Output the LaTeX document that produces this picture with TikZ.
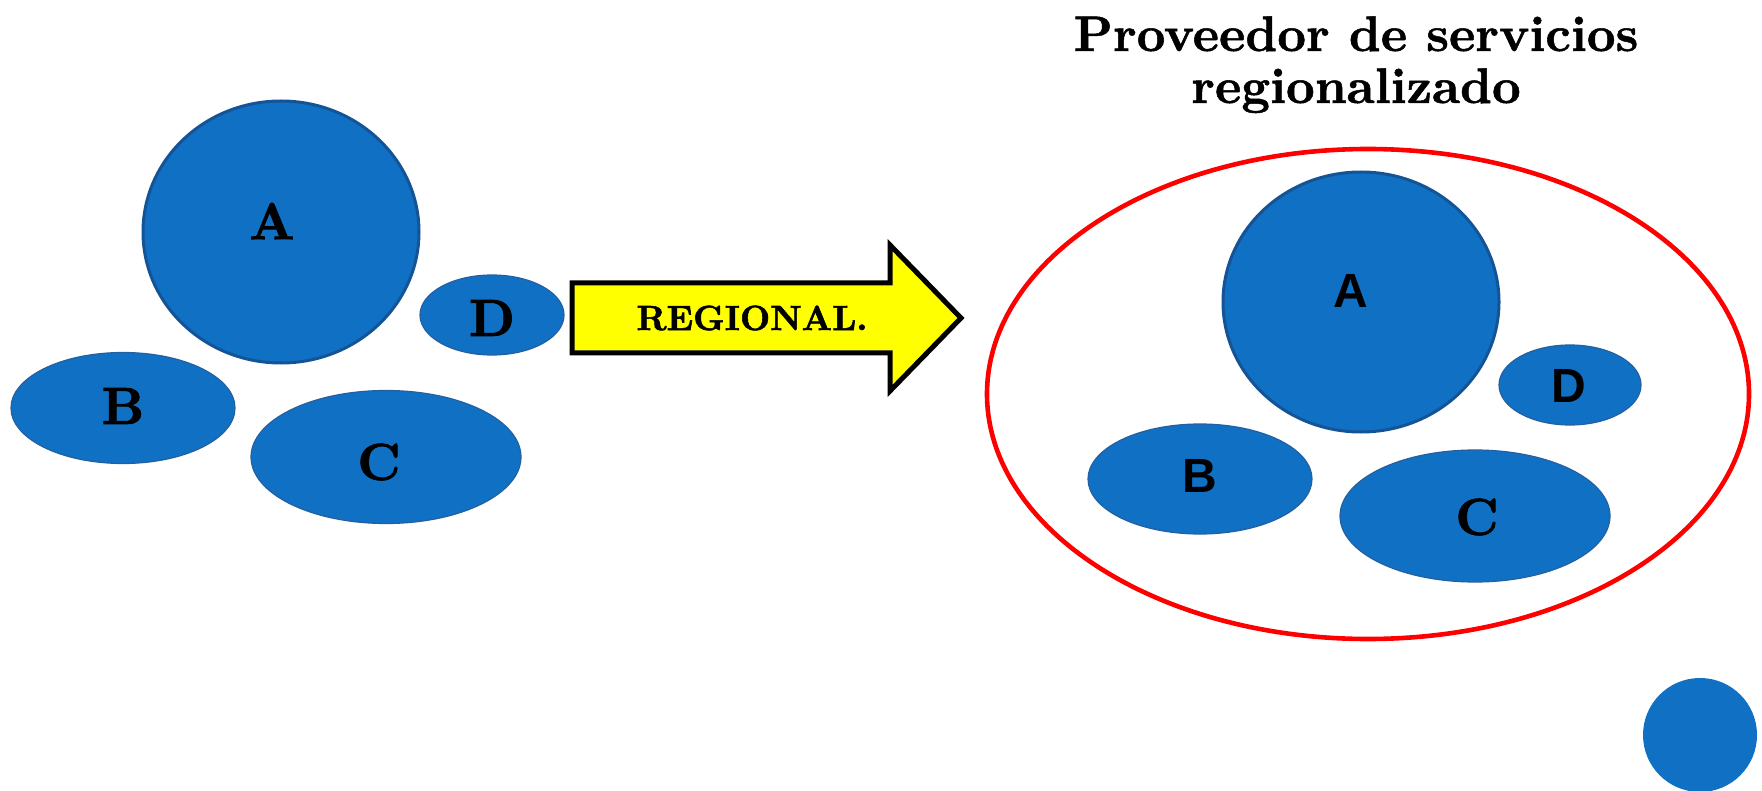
\documentclass[tikz,border=0pt]{standalone}
\usepackage{fontspec}
\newfontfamily\sansfont{Liberation Sans}
\newfontface\heavyser{lmroman10-bold.otf}[FakeBold=1.6]
\newfontface\titleser{lmroman10-bold.otf}[FakeBold=1]
\usetikzlibrary{shapes.geometric}
\definecolor{bfill}{RGB}{16,112,196}
\definecolor{bline}{RGB}{20,84,150}
\definecolor{bthin}{RGB}{36,96,160}
\definecolor{aryel}{RGB}{255,255,0}
\begin{document}
\begin{tikzpicture}[x=0.5pt,y=-0.5pt,
  blob/.style={ellipse, fill=bfill, draw=bthin, line width=0.6pt, inner sep=0pt},
  bigblob/.style={blob, draw=bline, line width=1.5pt},
  serlab/.style={font=\heavyser\fontsize{26}{30}\selectfont, inner sep=0pt},
  sanslab/.style={font=\fontsize{24}{28}\selectfont\sansfont\bfseries, inner sep=0pt},
  titletext/.style={font=\titleser\fontsize{25}{28}\selectfont, inner sep=0pt, anchor=base},
  arrowshape/.style={fill=aryel, draw=black, line width=2.5pt, line join=miter}]
\useasboundingbox (0,0) rectangle (1762,791);
\fill[white] (0,0) rectangle (1762,791);

% left group
\node[bigblob, minimum width=138pt, minimum height=131pt] (lA) at (281,232) {};
\node[blob, minimum width=112pt, minimum height=55.5pt] (lB) at (123,408) {};
\node[blob, minimum width=135pt, minimum height=66.5pt] (lC) at (386,457) {};
\node[blob, minimum width=72pt, minimum height=40pt] (lD) at (492,315) {};
\node[serlab] (lAt) at (272,221) {A};
\node[serlab] (lBt) at (123,406) {B};
\node[serlab] (lCt) at (379,462) {C};
\node[serlab] (lDt) at (492,318) {D};

% arrow
\coordinate (a1) at (572,283);
\coordinate (a2) at (890,283);
\coordinate (a3) at (890,245);
\coordinate (a4) at (961,318);
\coordinate (a5) at (890,391);
\coordinate (a6) at (890,353);
\coordinate (a7) at (572,353);
\draw[arrowshape] (a1) -- (a2) -- (a3) -- (a4) -- (a5) -- (a6) -- (a7) -- cycle;
\node[font=\heavyser\fontsize{17.5}{20}\selectfont, inner sep=0pt] (reg) at (752,318) {REGIONAL.};

% title
\node[titletext] (t1) at (1356,51) {Proveedor de servicios};
\node[titletext] (t2) at (1356,103) {regionalizado};

% right group
\node[ellipse, draw=red, line width=2.3pt, minimum width=381pt, minimum height=245pt, inner sep=0pt] (reg2) at (1368,394) {};
\node[bigblob, minimum width=138pt, minimum height=130pt] (rA) at (1361,302) {};
\node[blob, minimum width=112pt, minimum height=55pt] (rB) at (1200,479) {};
\node[blob, minimum width=135pt, minimum height=66pt] (rC) at (1475,516) {};
\node[blob, minimum width=71pt, minimum height=40pt] (rD) at (1570,385) {};
\node[sanslab] (rAt) at (1351,291) {A};
\node[sanslab] (rBt) at (1200,476) {B};
\node[serlab] (rCt) at (1477,517) {C};
\node[sanslab] (rDt) at (1569,386) {D};

% small circle
\node[circle, fill=bfill, minimum size=57pt, inner sep=0pt] (dot) at (1700,735) {};
\end{tikzpicture}
\end{document}
